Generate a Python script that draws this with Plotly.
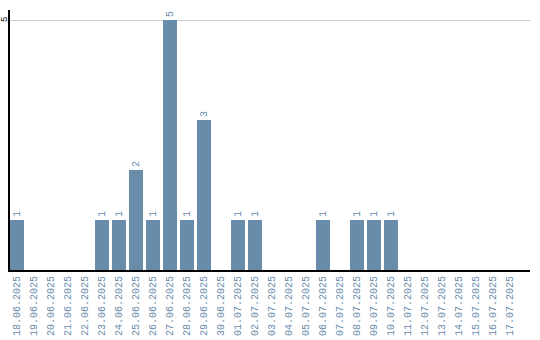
import plotly.graph_objects as go

dates = ["18.06.2025","19.06.2025","20.06.2025","21.06.2025","22.06.2025","23.06.2025",
         "24.06.2025","25.06.2025","26.06.2025","27.06.2025","28.06.2025","29.06.2025",
         "30.06.2025","01.07.2025","02.07.2025","03.07.2025","04.07.2025","05.07.2025",
         "06.07.2025","07.07.2025","08.07.2025","09.07.2025","10.07.2025","11.07.2025",
         "12.07.2025","13.07.2025","14.07.2025","15.07.2025","16.07.2025","17.07.2025"]
counts = [1,0,0,0,0,1,1,2,1,5,1,3,0,1,1,0,0,0,1,0,1,1,1,0,0,0,0,0,0,0]
ytick = 5

idx = list(range(len(dates)))
labels = [str(c) if c > 0 else "" for c in counts]
color = "#6a8cab"

fig = go.Figure(go.Bar(
    x=idx, y=counts, width=14/17, marker=dict(color=color, line=dict(width=0)),
    text=labels, textposition="outside", textangle=-90, cliponaxis=False,
    textfont=dict(family="Liberation Mono", size=10, color=color),
))
fig.add_annotation(x=-5/520, xref="paper", y=ytick, yref="y", text=str(ytick), showarrow=False,
                   textangle=-90, xanchor="center", yanchor="middle",
                   font=dict(family="Liberation Mono", size=9, color="black"))
fig.update_layout(
    width=540, height=340, margin=dict(l=10, r=10, t=10, b=70),
    paper_bgcolor="white", plot_bgcolor="white", showlegend=False,
    xaxis=dict(range=[-7/17, -7/17 + 520/17], tickvals=idx, ticktext=dates, tickangle=-90,
               showgrid=False, showline=True, linecolor="black", linewidth=2, ticks="",
               automargin=False,
               tickfont=dict(family="Liberation Mono", size=10, color=color), zeroline=False),
    yaxis=dict(range=[0, 5.2], tickvals=[ytick], showticklabels=False, showgrid=True,
               gridcolor="#cccccc", gridwidth=1, showline=True, linecolor="black", linewidth=2,
               ticks="", automargin=False, zeroline=False),
)
fig.write_html("out.html")
